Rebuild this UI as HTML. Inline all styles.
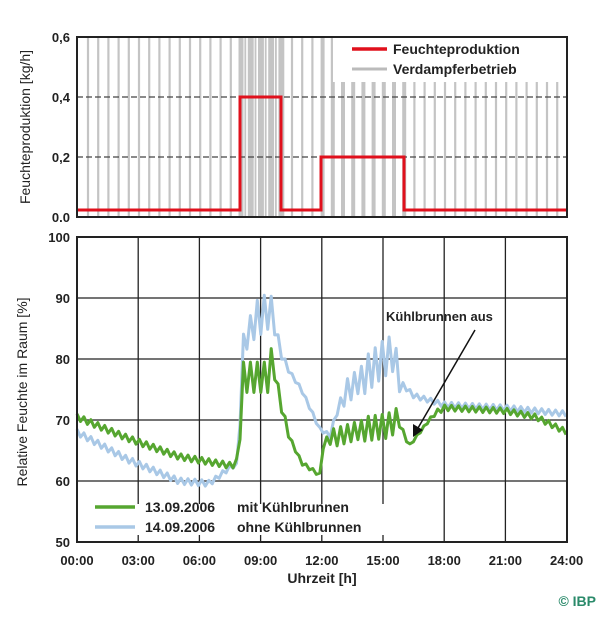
<!DOCTYPE html>
<html><head><meta charset="utf-8"><style>
html,body{margin:0;padding:0;background:#fff;}
svg text{font-family:"Liberation Sans",Arial,sans-serif;font-weight:bold;}
</style></head><body>
<svg id="s" width="600" height="613" viewBox="0 0 600 613" xmlns="http://www.w3.org/2000/svg">
<rect width="600" height="613" fill="#fff"/>
<g id="bars"></g>
<line x1="77" y1="97" x2="567" y2="97" stroke="#444" stroke-width="1.2" stroke-dasharray="6,3"/>
<line x1="77" y1="157" x2="567" y2="157" stroke="#444" stroke-width="1.2" stroke-dasharray="6,3"/>
<rect x="333" y="38" width="233" height="44" fill="#fff"/>
<line x1="352" y1="49" x2="387" y2="49" stroke="#e0101c" stroke-width="3.5"/>
<line x1="352" y1="69" x2="387" y2="69" stroke="#bbb" stroke-width="3"/>
<text x="393" y="54" font-size="14" fill="#222">Feuchteproduktion</text>
<text x="393" y="74" font-size="14" fill="#222">Verdampferbetrieb</text>
<polyline points="77,210 240,210 240,97 281,97 281,210 321,210 321,157 404,157 404,210 566,210" fill="none" stroke="#e0101c" stroke-width="3"/>
<rect x="77" y="37" width="490" height="180" fill="none" stroke="#222" stroke-width="2"/>
<text x="70" y="42" font-size="13" text-anchor="end" fill="#222">0,6</text>
<text x="70" y="102" font-size="13" text-anchor="end" fill="#222">0,4</text>
<text x="70" y="162" font-size="13" text-anchor="end" fill="#222">0,2</text>
<text x="70" y="222" font-size="13" text-anchor="end" fill="#222">0.0</text>
<text transform="translate(30,127) rotate(-90)" font-size="14" text-anchor="middle" fill="#222" style="font-weight:normal">Feuchteproduktion [kg/h]</text>
<g id="grid" stroke="#222" stroke-width="1.3"></g>
<g id="series"></g>
<rect x="78" y="496" width="360" height="45" fill="#fff"/>
<line x1="95" y1="507" x2="135" y2="507" stroke="#56a630" stroke-width="3.5"/>
<line x1="95" y1="527" x2="135" y2="527" stroke="#a9c8e6" stroke-width="3.5"/>
<text x="145" y="512" font-size="14" fill="#222">13.09.2006</text>
<text x="237" y="512" font-size="14" fill="#222">mit Kühlbrunnen</text>
<text x="145" y="532" font-size="14" fill="#222">14.09.2006</text>
<text x="237" y="532" font-size="14" fill="#222">ohne Kühlbrunnen</text>
<g id="stubs" stroke="#222" stroke-width="1.3"></g>
<rect x="77" y="237" width="490" height="305" fill="none" stroke="#222" stroke-width="2"/>
<g id="ylab" font-size="13" fill="#222" text-anchor="end"></g>
<g id="xlab" font-size="13" fill="#222" text-anchor="middle"></g>
<text transform="translate(27,392) rotate(-90)" font-size="14" text-anchor="middle" fill="#222" style="font-weight:normal">Relative Feuchte im Raum [%]</text>
<text x="322" y="583" font-size="14" text-anchor="middle" fill="#222">Uhrzeit [h]</text>
<text x="386" y="321" font-size="13" fill="#222">Kühlbrunnen aus</text>
<line x1="475" y1="330" x2="418" y2="428" stroke="#111" stroke-width="1.5"/>
<polygon points="413,437 413,424 423,430" fill="#111"/>
<text x="596" y="606" font-size="14" text-anchor="end" fill="#2a8a6a">© IBP</text>
</svg>
<script>
var NS="http://www.w3.org/2000/svg";
function el(p,t,a){var e=document.createElementNS(NS,t);for(var k in a)e.setAttribute(k,a[k]);document.getElementById(p).appendChild(e);return e;}
for(var x=88;x<566;x+=10.2){
  var w=2.2; if(x>236&&x<282)w=5; if(x>320&&x<405)w=4;
  el("bars","rect",{x:x-w/2,y:38,width:w,height:178,fill:"#c4c4c4"});
}
for(var x=241;x<281;x+=3.4){el("bars","rect",{x:x,y:38,width:1.8,height:178,fill:"#c4c4c4"});}
var X=function(h){return 77+h*20.4;},Y=function(v){return 237+(100-v)*6.1;};
for(var i=1;i<8;i++)el("grid","line",{x1:X(i*3),y1:237,x2:X(i*3),y2:542});
for(var v=60;v<100;v+=10)el("grid","line",{x1:77,y1:Y(v),x2:567,y2:Y(v)});
for(var i=1;i<6;i++){el("stubs","line",{x1:X(i*3),y1:496,x2:X(i*3),y2:504});el("stubs","line",{x1:X(i*3),y1:535,x2:X(i*3),y2:542});}
for(var v=50;v<=100;v+=10){var t=el("ylab","text",{x:70,y:Y(v)+5});t.textContent=v;}
var lbl=["00:00","03:00","06:00","09:00","12:00","15:00","18:00","21:00","24:00"];
for(var i=0;i<9;i++){var t=el("xlab","text",{x:X(i*3),y:565});t.textContent=lbl[i];}
function interp(k,h){for(var i=0;i<k.length-1;i++){if(h>=k[i][0]&&h<=k[i+1][0]){var f=(h-k[i][0])/(k[i+1][0]-k[i][0]||1);return [k[i][1]+f*(k[i+1][1]-k[i][1]),k[i][2]];}}return [k[k.length-1][1],0];}
function series(k,col,step){
  var pts=[];var n=0;
  for(var h=0;h<=24.001;h+=step){var r=interp(k,h);var a=r[1]||0;var v=r[0]+(n%2?-a:a);n++;pts.push(X(h).toFixed(1)+","+Y(v).toFixed(1));}
  el("series","polyline",{points:pts.join(" "),fill:"none",stroke:col,"stroke-width":3,"stroke-linejoin":"round"});
}
var blue=[[0,68,0.5],[2.5,63.5,0.5],[5,60,0.5],[6.5,59.6,0.4],[7.6,62.5,0.4],[7.9,62.5,0.3],[8.15,82,2],[8.6,86,3],[9.4,88,3.5],[9.6,86,1],[10.2,79,0.3],[11,75,0.3],[11.9,68.5,0.3],[12.4,67.5,0.5],[13,74,2],[14,77,3],[15,80,3],[15.5,81,2.5],[15.9,76,0.4],[16.5,74,0.4],[18,72.5,0.45],[21,72,0.45],[24,71,0.4]];
var green=[[0,70.5,0.5],[2.5,67,0.5],[5,64,0.5],[7.6,62.5,0.5],[7.95,63.5,0.3],[8.1,77,2.5],[9.4,77,3.5],[9.6,79,1],[10.3,68,0.3],[11,63,0.3],[11.9,61,0.3],[12.05,66,0.8],[12.5,67,1.5],[14,68.5,2],[15.2,69,2],[15.7,70,0.4],[16.3,65.8,0.2],[17.5,71,0.45],[18,72,0.45],[21,71.5,0.45],[22.5,70.5,0.45],[24,68,0.45]];
series(blue,"#a9c8e6",0.17);
series(green,"#56a630",0.17);
</script>
</body></html>
